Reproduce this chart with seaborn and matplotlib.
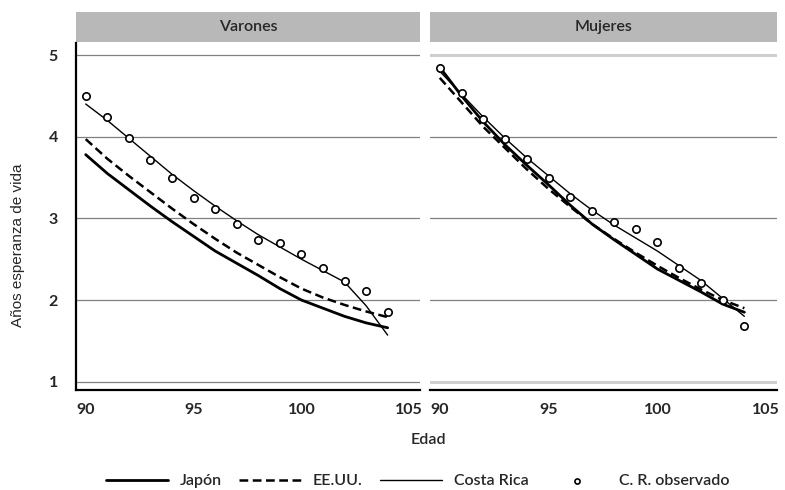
import numpy as np
import pandas as pd
import matplotlib.pyplot as plt
import matplotlib.patches as mpatches
import seaborn as sns

# datos
edad = list(range(90, 105))

# Varones
jap_v = [3.78, 3.55, 3.35, 3.15, 2.96, 2.78, 2.60, 2.45, 2.30, 2.14, 2.00, 1.90, 1.80, 1.72, 1.66]
usa_v = [3.97, 3.73, 3.52, 3.32, 3.12, 2.93, 2.75, 2.58, 2.43, 2.28, 2.14, 2.03, 1.94, 1.86, 1.79]
cr_v = [4.40, 4.20, 3.98, 3.76, 3.54, 3.34, 3.15, 2.97, 2.80, 2.65, 2.50, 2.36, 2.22, 1.93, 1.57]
obs_v = [4.50, 4.24, 3.98, 3.72, 3.49, 3.25, 3.12, 2.93, 2.74, 2.70, 2.56, 2.39, 2.23, 2.11, 1.85]

# Mujeres
jap_m = [4.85, 4.50, 4.18, 3.90, 3.65, 3.41, 3.16, 2.93, 2.74, 2.56, 2.38, 2.24, 2.10, 1.95, 1.85]
usa_m = [4.72, 4.42, 4.12, 3.86, 3.60, 3.36, 3.14, 2.93, 2.75, 2.58, 2.42, 2.27, 2.13, 2.00, 1.90]
cr_m = [4.80, 4.52, 4.24, 3.98, 3.74, 3.52, 3.30, 3.10, 2.92, 2.76, 2.60, 2.42, 2.24, 2.02, 1.80]
obs_m = [4.84, 4.53, 4.22, 3.97, 3.73, 3.50, 3.26, 3.09, 2.96, 2.87, 2.71, 2.39, 2.21, 2.00, 1.68]

paneles = ["Varones", "Mujeres"]
series = {
    "Varones": (jap_v, usa_v, cr_v, obs_v),
    "Mujeres": (jap_m, usa_m, cr_m, obs_m),
}

sns.set_style("white")
plt.rcParams['font.family'] = ['Lato', 'DejaVu Sans']

fig = plt.figure(figsize=(7.85, 4.9), dpi=100)
ax1 = fig.add_axes([76/785, 100/490, 344/785, 347/490])
ax2 = fig.add_axes([430/785, 100/490, 347/785, 347/490])

for ax, panel in zip([ax1, ax2], paneles):
    jap, usa, cr, obs = series[panel]
    sns.lineplot(x=edad, y=jap, ax=ax, color="black", lw=2.0, label="Japón")
    sns.lineplot(x=edad, y=usa, ax=ax, color="black", lw=1.8,
                 linestyle=(0, (3.5, 1.8)), label="EE.UU.")
    sns.lineplot(x=edad, y=cr, ax=ax, color="black", lw=1.0, label="Costa Rica")
    sns.scatterplot(x=edad, y=obs, ax=ax, marker="o", s=28, facecolor="white",
                    edgecolor="black", linewidth=1.2, label="C. R. observado", zorder=3)

    ax.set_xlim(89.55, 105.5)
    ax.set_ylim(0.898, 5.147)
    ax.set_xticks([90, 95, 100, 105])
    ax.set_yticks([1, 2, 3, 4, 5])
    ax.grid(axis="y", color="#808080", lw=0.9)
    ax.set_axisbelow(True)
    for s in ["top", "right"]:
        ax.spines[s].set_visible(False)
    ax.spines["bottom"].set_color("black")
    ax.spines["bottom"].set_linewidth(1.6)
    ax.tick_params(axis="x", direction="in", length=3, color="#aaaaaa",
                   pad=9, labelsize=11.5)
    ax.set_xlabel("")
    ax.set_ylabel("")

    # franja del panel
    ax.add_patch(mpatches.Rectangle((0, 1.003), 1.0, 0.086, transform=ax.transAxes,
                                    facecolor="#b8b8b8", edgecolor="none", clip_on=False))
    ax.text(0.5, 1.046, panel, transform=ax.transAxes, ha="center", va="center",
            fontsize=11.5, fontweight="semibold")
    ax.get_legend().remove()

ax1.spines["left"].set_color("black")
ax1.spines["left"].set_linewidth(1.6)
ax1.tick_params(axis="y", length=7, color="#808080", pad=6, labelsize=11.5)
for lab in ax1.get_xticklabels() + ax1.get_yticklabels():
    lab.set_fontweight("bold")

ax2.spines["left"].set_visible(False)
ax2.tick_params(axis="y", length=0, labelleft=False)
for lab in ax2.get_xticklabels():
    lab.set_fontweight("bold")
gl = ax2.get_ygridlines()
for i in [0, 4]:
    gl[i].set_color("#cfcfcf")
    gl[i].set_linewidth(2.2)

fig.text(18/785, 1 - 245/490, "Años esperanza de vida", rotation=90,
         ha="center", va="center", fontsize=11, family=["Liberation Sans", "DejaVu Sans"])
fig.text(428/785, 1 - 440/490, "Edad", ha="center", va="center", fontsize=11.5,
         fontweight="semibold")

h, l = ax1.get_legend_handles_labels()
leg = fig.legend(h, l, loc="center", bbox_to_anchor=(418/785, 1 - 481/490), ncol=4,
                 frameon=False, fontsize=11.5, handlelength=3.9, handletextpad=0.7,
                 columnspacing=1.1, markerscale=0.7,
                 prop={"size": 11.5, "weight": "semibold"})

fig.savefig("out.png", dpi=100)
